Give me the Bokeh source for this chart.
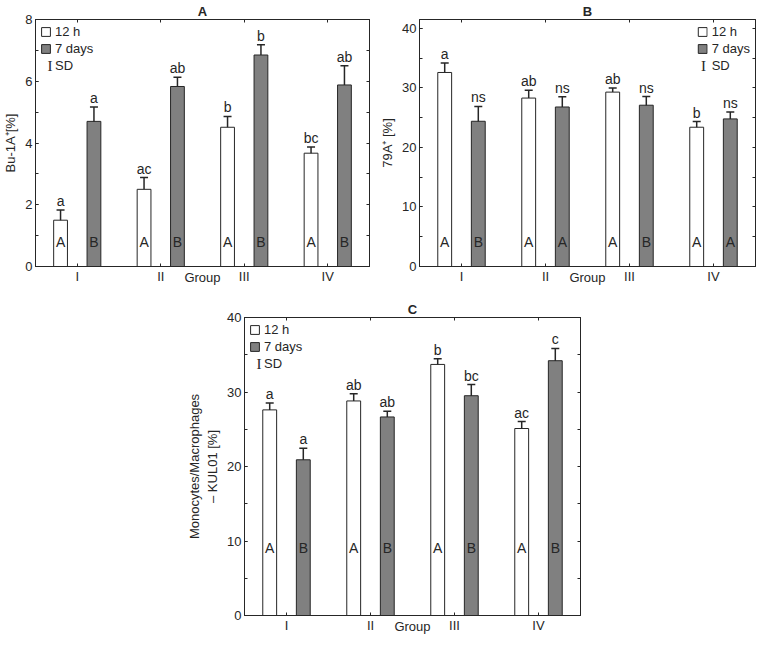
import numpy as np
from bokeh.plotting import figure
from bokeh.models import (ColumnDataSource, Range1d, LinearAxis, FixedTicker, Label,
                          SingleIntervalTicker, Whisker, TeeHead, Legend, LegendItem, Spacer)
from bokeh.layouts import column, row
from bokeh.core.properties import value
from bokeh.embed import file_html
from bokeh.resources import INLINE

# ---------------- data ----------------
groups = ["I", "II", "III", "IV"]

a_12h = [1.50, 2.50, 4.51, 3.67]
a_12h_sd = [0.33, 0.38, 0.35, 0.20]
a_7d = [4.70, 5.83, 6.85, 5.88]
a_7d_sd = [0.47, 0.30, 0.33, 0.62]
a_12h_sig = ["a", "ac", "b", "bc"]
a_7d_sig = ["a", "ab", "b", "ab"]
a_12h_in = ["A", "A", "A", "A"]
a_7d_in = ["B", "B", "B", "B"]

b_12h = [32.6, 28.3, 29.3, 23.4]
b_12h_sd = [1.6, 1.3, 0.7, 0.95]
b_7d = [24.4, 26.8, 27.1, 24.8]
b_7d_sd = [2.5, 1.7, 1.45, 1.15]
b_12h_sig = ["a", "ab", "ab", "b"]
b_7d_sig = ["ns", "ns", "ns", "ns"]
b_12h_in = ["A", "A", "A", "A"]
b_7d_in = ["B", "A", "B", "A"]

c_12h = [27.6, 28.8, 33.7, 25.1]
c_12h_sd = [0.93, 0.95, 0.75, 0.93]
c_7d = [20.9, 26.65, 29.5, 34.2]
c_7d_sd = [1.55, 0.75, 1.5, 1.65]
c_12h_sig = ["a", "ab", "b", "ac"]
c_7d_sig = ["a", "ab", "bc", "c"]
c_12h_in = ["A", "A", "A", "A"]
c_7d_in = ["B", "B", "B", "B"]

series_labels = ["12 h", "7 days", "SD"]
sd_symbol = "I"
x_title = "Group"

# ---------------- style ----------------
FONT = "Liberation Sans"
INK = "#262626"
GRAY = "#808080"


def panel(title, ylabel, y_end, major, v12, s12, v7, s7, sig12, sig7, in12, in7,
          inside_y, legend_loc, width, height, bl, br, bt):
    p = figure(width=width, height=height, x_range=Range1d(0.5, 4.5),
               y_range=Range1d(0, y_end), output_backend="svg", toolbar_location=None,
               min_border_left=bl, min_border_right=br, min_border_top=bt,
               min_border_bottom=0)
    p.title.text = title
    p.title.align = "center"
    p.title.text_font = FONT
    p.title.text_font_size = "13px"
    p.title.text_font_style = "bold"
    p.title.text_color = INK
    p.title.standoff = 2
    p.xgrid.visible = False
    p.ygrid.visible = False
    p.outline_line_color = INK
    p.outline_line_alpha = 1.0
    p.background_fill_color = "white"
    p.border_fill_color = "white"

    idx = np.arange(1, len(groups) + 1)
    v12 = np.array(v12); s12 = np.array(s12)
    v7 = np.array(v7); s7 = np.array(s7)
    src12 = ColumnDataSource(dict(x=idx - 0.2, top=v12, upper=v12 + s12, lower=v12 - s12,
                                  sig=sig12, ins=in12))
    src7 = ColumnDataSource(dict(x=idx + 0.2, top=v7, upper=v7 + s7, lower=v7 - s7,
                                 sig=sig7, ins=in7))
    r12 = p.vbar(x="x", top="top", bottom=0, width=0.165, source=src12,
                 fill_color="white", line_color=INK, line_width=1)
    r7 = p.vbar(x="x", top="top", bottom=0, width=0.165, source=src7,
                fill_color=GRAY, line_color=INK, line_width=1)
    for src in (src12, src7):
        w = Whisker(base="x", upper="upper", lower="lower", source=src,
                    line_color=INK, line_width=1.5,
                    upper_head=TeeHead(size=8, line_color=INK, line_width=1.5),
                    lower_head=TeeHead(size=8, line_color=INK, line_width=1.5))
        p.add_layout(w)
        p.text(x="x", y="upper", text="sig", source=src, text_align="center",
               text_baseline="bottom", y_offset=-1, text_font=value(FONT),
               text_font_size="14px", text_color=INK)
        p.text(x="x", y=inside_y, text="ins", source=src, text_align="center",
               text_baseline="middle", text_font=value(FONT),
               text_font_size="14px", text_color=INK)

    # placeholder renderer for the SD legend row (its glyph is drawn by a Label below)
    sd_src = ColumnDataSource(dict(x=np.array([np.nan]), y=np.array([np.nan]),
                                   t=[""]))
    rsd = p.text(x="x", y="y", text="t", source=sd_src, text_color=INK)

    # axes
    xa = p.xaxis[0]
    xa.ticker = FixedTicker(ticks=list(idx))
    xa.major_label_overrides = {int(i): g for i, g in zip(idx, groups)}
    xa.axis_label = x_title
    xa.axis_label_standoff = -17
    ya = p.yaxis[0]
    ya.ticker = SingleIntervalTicker(interval=major, num_minor_ticks=2)
    ya.axis_label = ylabel
    ya.axis_label_standoff = 4
    for ax in (xa, ya):
        ax.major_tick_in = 3
        ax.major_tick_out = 0
        ax.minor_tick_in = 3
        ax.minor_tick_out = 0
        ax.axis_line_color = INK
        ax.major_tick_line_color = INK
        ax.minor_tick_line_color = INK
        ax.major_label_text_font = FONT
        ax.major_label_text_font_size = "13px"
        ax.major_label_text_color = INK
        ax.major_label_standoff = 3
        ax.axis_label_text_font = FONT
        ax.axis_label_text_font_size = "13px"
        ax.axis_label_text_font_style = "normal"
        ax.axis_label_text_color = INK
    xa.major_label_standoff = 2

    ra = LinearAxis(ticker=SingleIntervalTicker(interval=major / 2, num_minor_ticks=0))
    ta = LinearAxis(ticker=FixedTicker(ticks=list(idx)))
    for ax in (ra, ta):
        ax.major_tick_in = 3
        ax.major_tick_out = 0
        ax.minor_tick_in = 0
        ax.minor_tick_out = 0
        ax.major_label_text_font_size = "1px"
        ax.major_label_text_color = None
        ax.major_label_standoff = 0
        ax.axis_line_color = INK
        ax.major_tick_line_color = INK
    p.add_layout(ra, "right")
    p.add_layout(ta, "above")

    legend = Legend(items=[LegendItem(label=series_labels[0], renderers=[r12]),
                           LegendItem(label=series_labels[1], renderers=[r7]),
                           LegendItem(label=series_labels[2], renderers=[rsd])],
                    location=legend_loc, border_line_color=None,
                    background_fill_alpha=0, glyph_width=11, glyph_height=11,
                    label_height=12, label_standoff=4, spacing=2, padding=3, margin=5,
                    label_text_font=FONT, label_text_font_size="13px",
                    label_text_color=INK)
    p.add_layout(legend)

    # error-bar symbol of the SD legend row (serif "I")
    if legend_loc == "top_left":
        sx, xoff = p.x_range.start, 14.5
    else:
        sx, xoff = p.x_range.end, -52
    p.add_layout(Label(x=sx, y=p.y_range.end, x_offset=xoff, y_offset=-46,
                       text=sd_symbol, text_align="center", text_baseline="middle",
                       text_font="Liberation Serif", text_font_size="15px",
                       text_color=INK))
    return p


pA = panel("A", "Bu-1A\u207a[%]", 8, 2, a_12h, a_12h_sd, a_7d, a_7d_sd,
           a_12h_sig, a_7d_sig, a_12h_in, a_7d_in, 0.8, "top_left", 377, 287, 5, 8, 0)
pB = panel("B", "79A\u207a [%]", 41.5, 10, b_12h, b_12h_sd, b_7d, b_7d_sd,
           b_12h_sig, b_7d_sig, b_12h_in, b_7d_in, 4.2, "top_right", 382, 287, 5, 4, 0)
pC = panel("C", "Monocytes/Macrophages\n\u2013 KUL01 [%]", 40, 10, c_12h, c_12h_sd,
           c_7d, c_7d_sd, c_12h_sig, c_7d_sig, c_12h_in, c_7d_in, 9.0, "top_left",
           406, 349, 5, 10, 30)

layout = column(row(pA, pB), row(Spacer(width=184, height=349), pC))

with open("out.html", "w") as f:
    f.write(file_html(layout, INLINE))
